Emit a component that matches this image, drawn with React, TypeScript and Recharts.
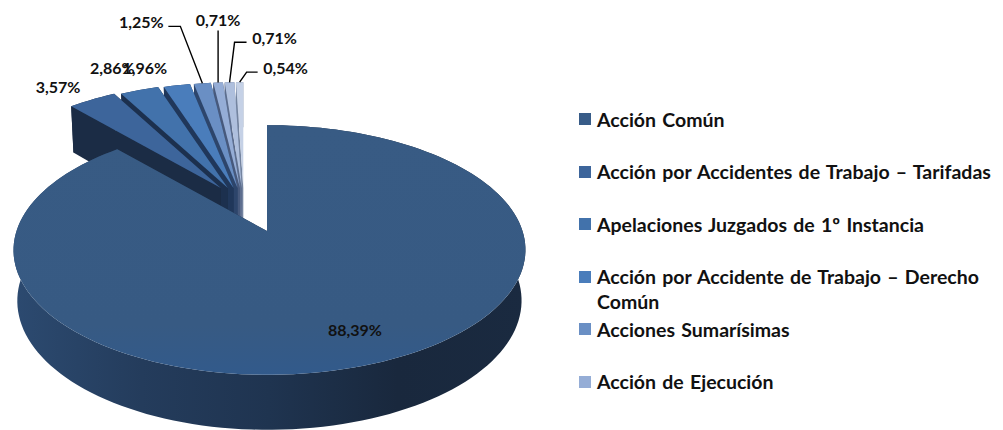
import { Legend, Pie, PieChart } from "recharts";

const CATEGORIES = [
  "Acción Común",
  "Acción por Accidentes de Trabajo – Tarifadas",
  "Apelaciones Juzgados de 1º Instancia",
  "Acción por Accidente de Trabajo – Derecho Común",
  "Acciones Sumarísimas",
  "Acción de Ejecución",
];
const VALUES = [88.39, 3.57, 2.86, 1.96, 1.25, 0.71, 0.71, 0.54];
const LABELS = ["88,39%", "3,57%", "2,86%", "1,96%", "1,25%", "0,71%", "0,71%", "0,54%"];
const COLORS = ["#385c88", "#3d659b", "#4272ab", "#4a7dbb", "#6a8fc4", "#95add6", "#aebfdd", "#c5d1e6"];
const WALLS = ["#1d3049", "#1b2c45", "#1c304e", "#20375a", "#2d456b", "#47597c", "#5d6e8e", "#74849f"];

// text offset and leader elbows, relative to the slice's outer midpoint
const LABEL_OFFSET = [
  { dx: -18, dy: -34, leader: [] },
  { dx: -34, dy: -13, leader: [] },
  { dx: -27, dy: -23, leader: [] },
  { dx: -32, dy: -18, leader: [] },
  { dx: -61, dy: -62, leader: [[-22, -57], [-34, -57]] },
  { dx: 0, dy: -63, leader: [[0, -52]] },
  { dx: 45, dy: -45, leader: [[5, -40], [17, -40]] },
  { dx: 46, dy: -15, leader: [[7, -10], [18, -10]] },
];

const FONT = "Lato, sans-serif";
const TILT = 0.482;
const PERSPECTIVE = 0.152;

// drawn right to left so the big slice ends up on top
const table = VALUES.map((value, slice) => ({
  slice,
  value,
  name: CATEGORIES[slice] ?? "",
  fill: COLORS[slice],
})).reverse();

const rad = (deg: number) => (deg * Math.PI) / 180;

// clockwise angle from the top, projected onto the tilted disc
function project(cx: number, cy: number, r: number, clock: number, k = 1) {
  const s = Math.sin(rad(clock));
  const c = Math.cos(rad(clock));
  const d = 1 + PERSPECTIVE * c;
  return { x: cx + (k * r * s) / d + 2.5 * Math.abs(s), y: cy - (k * r * TILT * c) / d };
}

function shift(slice: number, clock: number) {
  if (slice === 0) return { x: 0, y: 0 };
  return {
    x: -23 + 40 * Math.sin(rad(clock)),
    y: -43,
  };
}

const lower = (p: { x: number; y: number }, c: number, cx: number, ox: number) => ({
  x: ox + cx + (p.x - ox - cx) * 0.985,
  y: p.y + 50 - 5 * c,
});

const toPath = (pts: { x: number; y: number }[]) =>
  pts.map((p, i) => `${i ? "L" : "M"}${p.x.toFixed(2)},${p.y.toFixed(2)}`).join(" ") + " Z";

function Slice(props: any) {
  const { cx, cy, outerRadius, startAngle, endAngle, fill } = props;
  const slice = props.payload?.slice ?? props.slice;
  const mid = 90 - (startAngle + endAngle) / 2;
  const off = shift(slice, mid);
  const a0 = 90 - endAngle; // left edge, clockwise
  const a1 = 90 - startAngle; // right edge
  const steps = Math.max(2, Math.ceil(Math.abs(a1 - a0) / 2));
  const clocks = Array.from({ length: steps + 1 }, (_, i) => a0 + ((a1 - a0) * i) / steps);
  const top = clocks.map((t) => {
    const p = project(cx, cy, outerRadius, t);
    return { x: p.x + off.x, y: p.y + off.y };
  });
  const apex = { x: cx + off.x, y: cy + off.y };
  const below = (p: { x: number; y: number }, t: number) =>
    lower(p, Math.cos(rad(t)), cx, off.x);
  const bottom = top.map((p, i) => below(p, clocks[i])).reverse();
  const apexLow = { x: apex.x, y: apex.y + 50 };
  const first = top[0];
  const last = top[top.length - 1];
  const wall = WALLS[slice];
  return (
    <g>
      <path d={toPath([...top, ...bottom])} fill={slice === 0 ? "url(#mainWall)" : wall} />
      <path d={toPath([apex, last, below(last, a1), apexLow])} fill={wall} />
      <path d={toPath([apex, first, below(first, a0), apexLow])} fill={wall} />
      <path d={toPath([apex, ...top])} fill={slice === 0 ? "url(#mainTop)" : fill} />
    </g>
  );
}

function SliceLabel(props: any) {
  const slice = props.payload?.slice ?? props.slice;
  const { cx, cy, outerRadius, midAngle } = props;
  const clock = 90 - midAngle;
  const off = shift(slice, clock);
  const p = project(cx, cy, outerRadius, clock);
  const x = p.x + off.x;
  const y = p.y + off.y;
  const layout = LABEL_OFFSET[slice];
  const line = [[x, y], ...layout.leader.map(([dx, dy]) => [x + dx, y + dy])];
  return (
    <g>
      {layout.leader.length > 0 && (
        <polyline
          points={line.map((q) => q.join(",")).join(" ")}
          fill="none"
          stroke="#000"
          strokeWidth={1.4}
        />
      )}
      <text
        x={x + layout.dx}
        y={y + layout.dy}
        textAnchor="middle"
        dominantBaseline="central"
        fontFamily={FONT}
        fontWeight={700}
        fontSize={16}
        fill="#111"
      >
        {LABELS[slice]}
      </text>
    </g>
  );
}

function LegendList({ payload }: any) {
  const rows = [...(payload ?? [])].reverse().filter((entry: any) => entry.value);
  return (
    <div
      style={{
        fontFamily: FONT,
        fontWeight: 700,
        fontSize: 19.5,
        wordSpacing: 1.5,
        lineHeight: "25px",
        color: "#111",
      }}
    >
      {rows.map((entry: any) => (
        <div key={entry.value} style={{ height: 52.5, display: "flex" }}>
          <span
            style={{
              flex: "0 0 12px",
              height: 12,
              marginTop: 6.5,
              marginRight: 6,
              background: entry.color,
            }}
          />
          <span style={{ width: 396 }}>{entry.value}</span>
        </div>
      ))}
    </div>
  );
}

export default function App() {
  return (
    <div style={{ position: "absolute", left: 0, top: 0, width: 1003, height: 430, background: "#fff" }}>
      <PieChart width={1003} height={430} margin={{ top: 0, right: 0, bottom: 0, left: 0 }}>
        <defs>
          <linearGradient id="mainWall" x1="0" y1="0" x2="1" y2="0">
            <stop offset="0" stopColor="#2c4a70" />
            <stop offset="0.25" stopColor="#243c5c" />
            <stop offset="0.5" stopColor="#1f3450" />
            <stop offset="0.75" stopColor="#19283d" />
            <stop offset="1" stopColor="#1a2a40" />
          </linearGradient>
          <linearGradient id="mainTop" x1="0" y1="0" x2="0" y2="1">
            <stop offset="0" stopColor="#385b84" />
            <stop offset="0.8" stopColor="#375a83" />
            <stop offset="1" stopColor="#325a8b" />
          </linearGradient>
        </defs>
        <Pie
          data={table}
          dataKey="value"
          nameKey="name"
          cx={267}
          cy={231}
          outerRadius={253}
          startAngle={90}
          endAngle={450}
          stroke="none"
          shape={Slice}
          label={SliceLabel}
          labelLine={false}
          isAnimationActive={false}
        />
        <Legend
          content={LegendList}
          itemSorter={null}
          wrapperStyle={{ position: "absolute", left: 579, top: 106.5, width: 424, bottom: "auto", right: "auto" }}
        />
      </PieChart>
    </div>
  );
}
